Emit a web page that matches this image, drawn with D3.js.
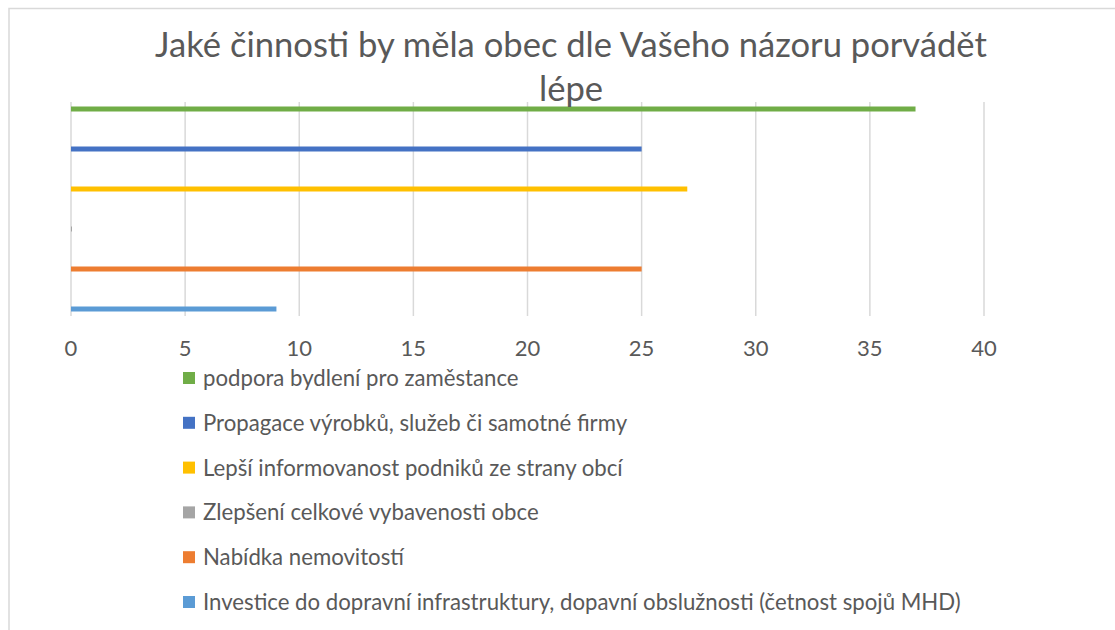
<!DOCTYPE html>
<html lang="cs">
<head>
  <meta charset="UTF-8">
  <title>Jaké činnosti by měla obec dle Vašeho názoru porvádět lépe</title>
  <script src="https://d3js.org/d3.v7.min.js"></script>
  <style>
    body {
      margin: 0;
      background-color: #ffffff;
      font-family: Lato, "Open Sans", sans-serif;
    }
    svg {
      display: block;
    }
  </style>
</head>
<body>
  <div id="chart"></div>

  <script>
    // data (top to bottom, same order as legend)
    const seriesNames = [
      'podpora bydlení pro zaměstance',
      'Propagace výrobků, služeb či samotné firmy',
      'Lepší informovanost podniků ze strany obcí',
      'Zlepšení celkové vybavenosti obce',
      'Nabídka nemovitostí',
      'Investice do dopravní infrastruktury, dopavní obslužnosti (četnost spojů MHD)'
    ];
    const seriesValues = [37, 25, 27, 0, 25, 9];
    const seriesColors = ['#70ad47', '#4472c4', '#ffc000', '#a5a5a5', '#ed7d31', '#5b9bd5'];
    const xTicks = [0, 5, 10, 15, 20, 25, 30, 35, 40];
    const titleLines = ['Jaké činnosti by měla obec dle Vašeho názoru porvádět', 'lépe'];

    const width = 1115, height = 630;
    const textColor = '#595959';

    const svg = d3.select('#chart')
      .append('svg')
      .attr('width', width)
      .attr('height', height);

    // chart frame (only top and left edge visible in the screenshot)
    svg.append('path')
      .attr('d', `M9,${height} V8.5 H${width}`)
      .attr('fill', 'none')
      .attr('stroke', '#d9d9d9')
      .attr('stroke-width', 1.5);

    const x = d3.scaleLinear().domain([0, 40]).range([71, 984]);
    const y = d3.scaleBand().domain(seriesNames).range([89, 329]);
    const plotTop = 102, plotBottom = 316;

    // gridlines
    svg.append('g')
      .selectAll('line')
      .data(xTicks)
      .enter()
      .append('line')
      .attr('x1', d => x(d))
      .attr('x2', d => x(d))
      .attr('y1', plotTop)
      .attr('y2', plotBottom)
      .attr('stroke', '#d9d9d9')
      .attr('stroke-width', 1.5);

    // tick labels
    svg.append('g')
      .selectAll('text')
      .data(xTicks)
      .enter()
      .append('text')
      .attr('x', d => x(d))
      .attr('y', 356)
      .attr('text-anchor', 'middle')
      .attr('fill', textColor)
      .style('font-size', '22px')
      .text(d => d);

    // bars
    const barH = 5;
    svg.append('g')
      .selectAll('rect')
      .data(seriesNames)
      .enter()
      .append('rect')
      .attr('x', x(0))
      .attr('y', d => y(d) + y.bandwidth() / 2 - barH / 2)
      .attr('width', (d, i) => Math.max(1, x(seriesValues[i]) - x(0)))
      .attr('height', barH)
      .attr('fill', (d, i) => seriesColors[i]);

    // title
    svg.append('g')
      .selectAll('text')
      .data(titleLines)
      .enter()
      .append('text')
      .attr('x', 571)
      .attr('y', (d, i) => 57 + i * 44)
      .attr('text-anchor', 'middle')
      .attr('fill', textColor)
      .style('font-size', '34.6px')
      .text(d => d);

    // legend
    const legendY = d3.scaleLinear().domain([0, seriesNames.length - 1]).range([378, 602]);
    const legend = svg.append('g');
    const items = legend.selectAll('g')
      .data(seriesNames)
      .enter()
      .append('g')
      .attr('transform', (d, i) => `translate(183, ${legendY(i)})`);

    items.append('rect')
      .attr('x', 0)
      .attr('y', -6)
      .attr('width', 12)
      .attr('height', 12)
      .attr('fill', (d, i) => seriesColors[i]);

    items.append('text')
      .attr('x', 20)
      .attr('y', 8)
      .attr('fill', textColor)
      .style('font-size', '22.2px')
      .text(d => d);
  </script>
</body>
</html>
